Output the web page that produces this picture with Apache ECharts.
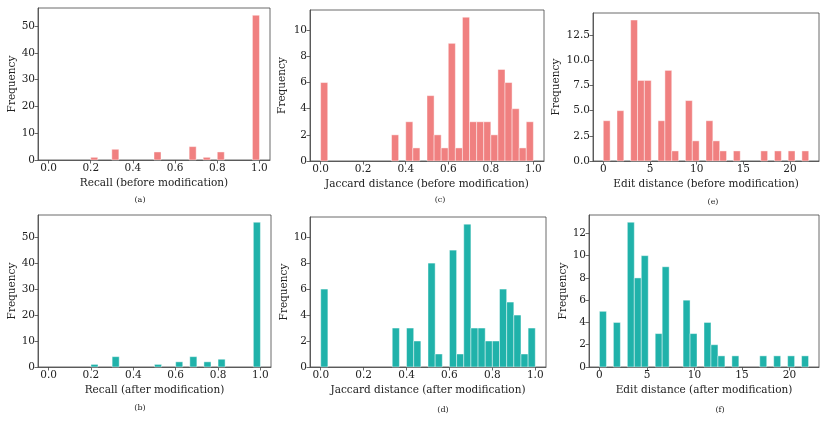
<!DOCTYPE html>
<html><head><meta charset="utf-8">
<script src="https://cdn.jsdelivr.net/npm/echarts@6/dist/echarts.min.js"></script>
<style>html,body{margin:0;padding:0;background:#fff}#c{width:830px;height:421px}</style>
</head><body><div id="c"></div>
<script>
// Histogram counts (30 bins each)
const recallBefore = [0,0,0,0,0,0,1,0,0,4,0,0,0,0,0,3,0,0,0,0,5,0,1,0,3,0,0,0,0,54];
const recallAfter  = [0,0,0,0,0,0,1,0,0,4,0,0,0,0,0,1,0,0,2,0,4,0,2,0,3,0,0,0,0,56];
const jaccardBefore = [6,0,0,0,0,0,0,0,0,0,2,0,3,1,0,5,2,1,9,1,11,3,3,3,2,7,6,4,1,3];
const jaccardAfter  = [6,0,0,0,0,0,0,0,0,0,3,0,3,2,0,8,1,0,9,1,11,3,3,2,2,6,5,4,1,3];
const editBefore = [4,0,5,0,14,8,8,0,4,9,1,0,6,2,0,4,2,1,0,1,0,0,0,1,0,1,0,1,0,1];
const editAfter  = [5,0,4,0,13,8,10,0,3,9,0,0,6,3,0,4,2,1,0,1,0,0,0,1,0,1,0,1,0,1];
// bin ranges
const recallRange = [0, 1];
const jaccardRange = [0, 1];
const editRange = [0, 22];
// tick labels
const unitTicks = [0, 0.2, 0.4, 0.6, 0.8, 1.0];
const editTicks = [0, 5, 10, 15, 20];
const recallYTicks = [0, 10, 20, 30, 40, 50];
const jaccardYTicks = [0, 2, 4, 6, 8, 10];
const editBeforeYTicks = [0, 2.5, 5, 7.5, 10, 12.5];
const editAfterYTicks = [0, 2, 4, 6, 8, 10, 12];
// labels
const xNames = ['Recall (before modification)','Jaccard distance (before modification)','Edit distance (before modification)',
                'Recall (after modification)','Jaccard distance (after modification)','Edit distance (after modification)'];
const captions = ['(a)','(c)','(e)','(b)','(d)','(f)'];

const RED = '#F08080', TEAL = '#20B2AA';
const FONT = 'DejaVu Serif';
const FS = 10.5;

const panels = [
  {counts: recallBefore, range: recallRange, ticks: unitTicks, dec: 1, ymax: 54*1.05, yticks: recallYTicks, ydec: 0, color: RED,
   grid: {left: 38, top: 8, width: 232, height: 152}, yGap: 19, cap: [140, 200]},
  {counts: jaccardBefore, range: jaccardRange, ticks: unitTicks, dec: 1, ymax: 11*1.05, yticks: jaccardYTicks, ydec: 0, color: RED,
   grid: {left: 310, top: 10, width: 234, height: 151}, yGap: 22, cap: [440, 200]},
  {counts: editBefore, range: editRange, ticks: editTicks, dec: 0, ymax: 14*1.05, yticks: editBeforeYTicks, ydec: 1, color: RED,
   grid: {left: 593, top: 13, width: 226, height: 148}, yGap: 31, cap: [713, 202]},
  {counts: recallAfter, range: recallRange, ticks: unitTicks, dec: 1, ymax: 56*1.05, yticks: recallYTicks, ydec: 0, color: TEAL,
   grid: {left: 38, top: 215, width: 233, height: 152}, yGap: 19, cap: [140, 408]},
  {counts: jaccardAfter, range: jaccardRange, ticks: unitTicks, dec: 1, ymax: 11*1.05, yticks: jaccardYTicks, ydec: 0, color: TEAL,
   grid: {left: 310, top: 217, width: 236, height: 150}, yGap: 20, cap: [443, 410]},
  {counts: editAfter, range: editRange, ticks: editTicks, dec: 0, ymax: 13*1.05, yticks: editAfterYTicks, ydec: 0, color: TEAL,
   grid: {left: 589, top: 215, width: 230, height: 152}, yGap: 20, cap: [720, 410]}
];

const grids = [], xAxes = [], yAxes = [], series = [], graphics = [];
const axisLineStyle = {color: '#444', width: 0.8};
panels.forEach((p, i) => {
  grids.push(Object.assign({show: true, borderColor: '#444', borderWidth: 0.8, containLabel: false}, p.grid));
  const span = p.range[1] - p.range[0];
  xAxes.push({
    type: 'value', gridIndex: i, min: p.range[0] - 0.05*span, max: p.range[1] + 0.05*span,
    name: xNames[i], nameLocation: 'middle', nameGap: 18,
    nameTextStyle: {fontFamily: FONT, fontSize: FS, color: '#222'},
    axisLine: {show: true, onZero: false, lineStyle: axisLineStyle},
    axisTick: {show: true, inside: false, length: 3.5, lineStyle: axisLineStyle, customValues: p.ticks},
    axisLabel: {fontFamily: FONT, fontSize: FS, color: '#222', margin: 3, customValues: p.ticks,
      formatter: v => Number(v).toFixed(p.dec)},
    splitLine: {show: false}
  });
  yAxes.push({
    type: 'value', gridIndex: i, min: 0, max: p.ymax,
    name: 'Frequency', nameLocation: 'middle', nameGap: p.yGap,
    nameTextStyle: {fontFamily: FONT, fontSize: FS, color: '#222'},
    axisLine: {show: true, onZero: false, lineStyle: axisLineStyle},
    axisTick: {show: true, inside: false, length: 3.5, lineStyle: axisLineStyle, customValues: p.yticks},
    axisLabel: {fontFamily: FONT, fontSize: FS, color: '#222', margin: 3, customValues: p.yticks,
      formatter: v => Number(v).toFixed(p.ydec)},
    splitLine: {show: false}
  });
  const n = p.counts.length, w = span / n;
  const data = p.counts.map((c, k) => [p.range[0] + k*w, p.range[0] + (k+1)*w, c]);
  series.push({
    type: 'custom', xAxisIndex: i, yAxisIndex: i, data: data,
    encode: {x: [0, 1], y: 2},
    renderItem: function (params, api) {
      const c = api.value(2);
      if (!c) return null;
      const p0 = api.coord([api.value(0), c]);
      const p1 = api.coord([api.value(1), 0]);
      return {
        type: 'rect',
        shape: {x: p0[0], y: p0[1], width: p1[0] - p0[0], height: p1[1] - p0[1]},
        style: {fill: p.color, stroke: 'rgba(255,255,255,0.55)', lineWidth: 0.8}
      };
    }
  });
  graphics.push({type: 'text', x: p.cap[0], y: p.cap[1],
    style: {text: captions[i], fontFamily: FONT, fontSize: 8, fill: '#222', textAlign: 'center', textVerticalAlign: 'middle'}});
});

const chart = echarts.init(document.getElementById('c'), null, {renderer: 'canvas'});
chart.setOption({
  animation: false,
  grid: grids, xAxis: xAxes, yAxis: yAxes, series: series, graphic: graphics
});
</script></body></html>
